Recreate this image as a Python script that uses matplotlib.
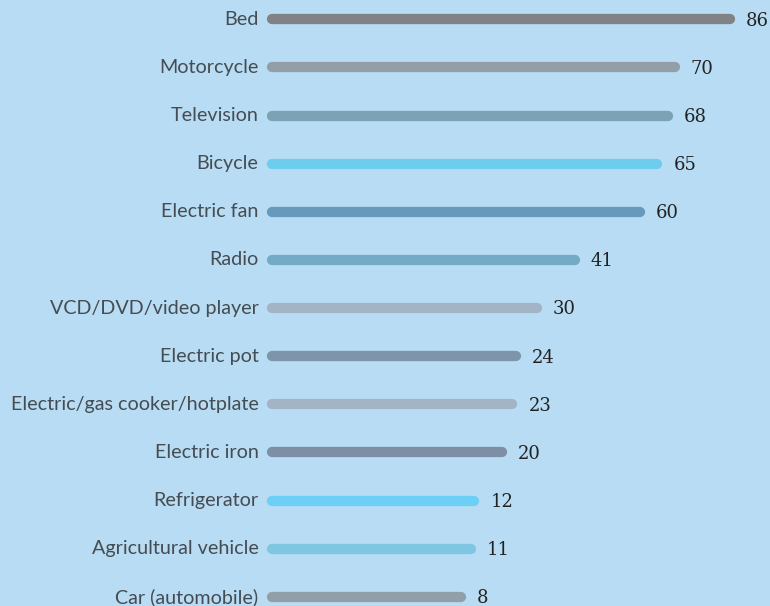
import matplotlib
matplotlib.use("Agg")
import matplotlib.pyplot as plt

# household items owned (%)
items = ["Bed", "Motorcycle", "Television", "Bicycle", "Electric fan", "Radio",
         "VCD/DVD/video player", "Electric pot", "Electric/gas cooker/hotplate",
         "Electric iron", "Refrigerator", "Agricultural vehicle", "Car (automobile)"]
values = [86, 70, 68, 65, 60, 41, 30, 24, 23, 20, 12, 11, 8]
colors = ["#808285", "#939fa8", "#7ba3b5", "#6ecdee", "#6699bc", "#73abc5",
          "#a3b4c6", "#7c95ab", "#a3b4c6", "#7c8fa5", "#6ccff5", "#7fc6e2", "#939fa8"]

bg = "#b8dcf3"
bar_start = -46.5

fig = plt.figure(figsize=(7.7, 6.06), dpi=100, facecolor=bg)
ax = fig.add_axes([0, 0, 1, 1])
ax.set_facecolor(bg)

for i, (name, v, c) in enumerate(zip(items, values, colors)):
    ax.plot([bar_start, v], [i, i], color=c, lw=7.4, solid_capstyle="round")
    ax.annotate(name, (bar_start, i), xytext=(-10, 0), textcoords="offset points",
                ha="right", va="center", fontsize=14.2, color="#454c52", family="Lato")
    ax.annotate(str(v), (v, i), xytext=(11.5, -1), textcoords="offset points",
                ha="left", va="center", fontsize=13, color="#222222", family="DejaVu Serif")

ax.set_xlim(-125.4, 97.6)
ax.set_ylim(12.19, -0.40)
ax.axis("off")

fig.savefig("out.png", dpi=100, facecolor=bg)
